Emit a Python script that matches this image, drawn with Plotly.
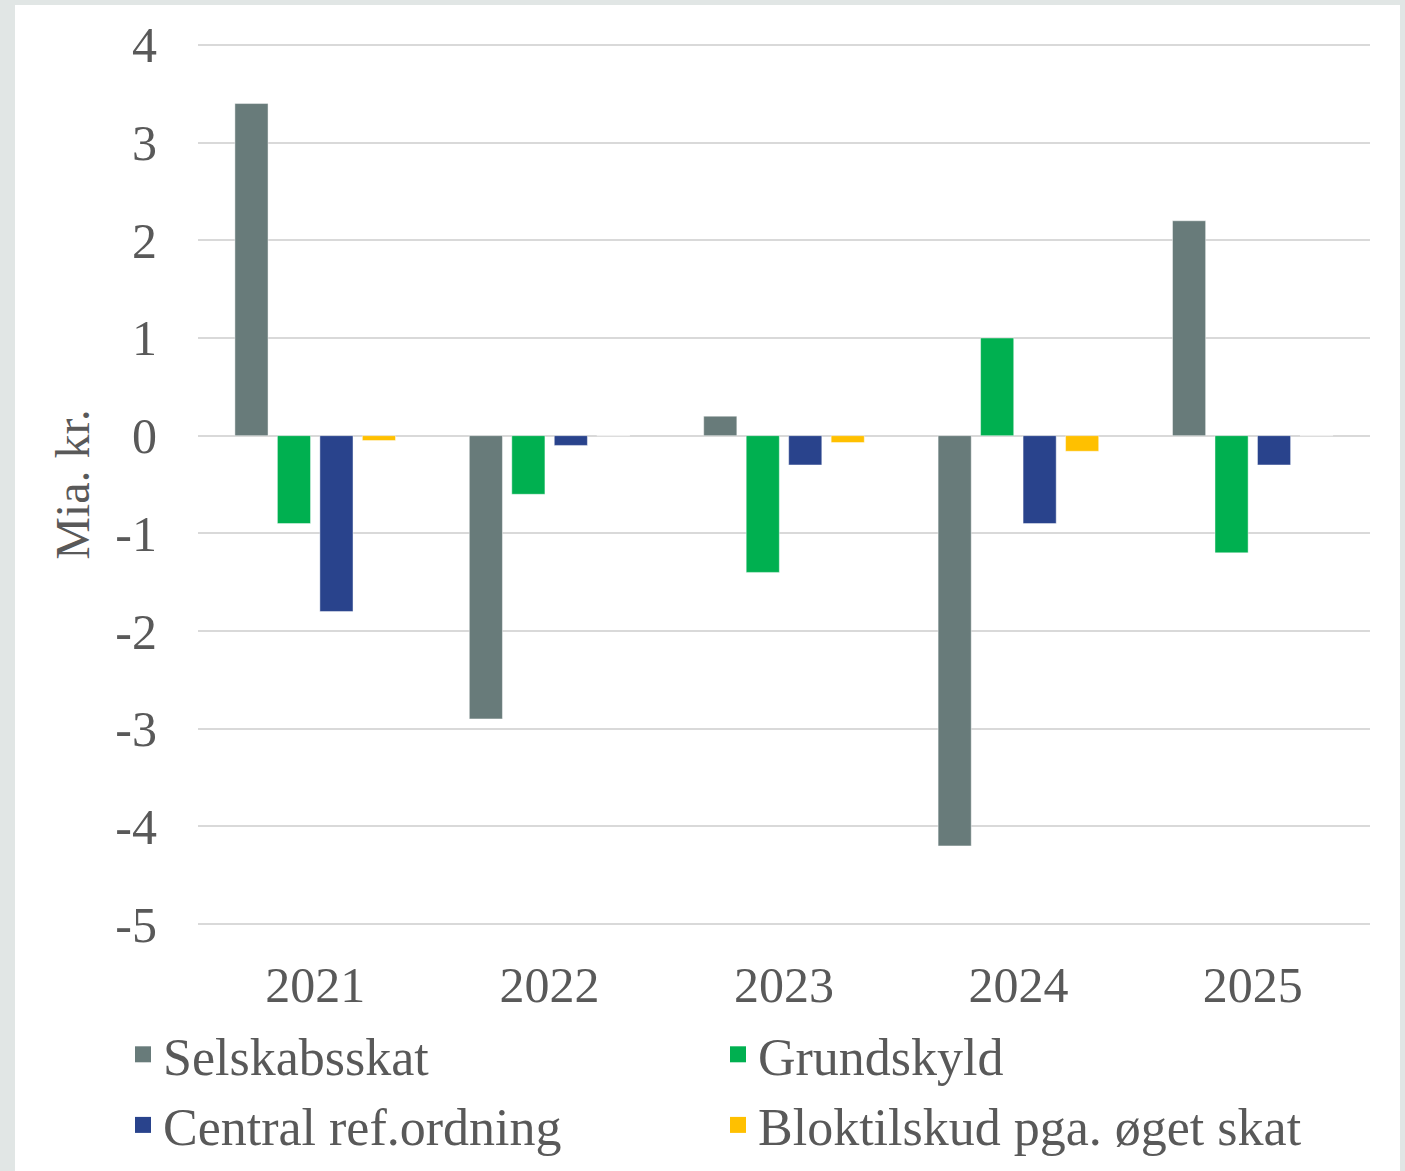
import plotly.graph_objects as go

years = ["2021", "2022", "2023", "2024", "2025"]
selskabsskat = [3.4, -2.9, 0.2, -4.2, 2.2]
grundskyld = [-0.9, -0.6, -1.4, 1.0, -1.2]
central_ref = [-1.8, -0.1, -0.3, -0.9, -0.3]
bloktilskud = [-0.05, 0.0, -0.07, -0.16, 0.0]

series_names = ["Selskabsskat", "Grundskyld", "Central ref.ordning", "Bloktilskud pga. øget skat"]
series_values = [selskabsskat, grundskyld, central_ref, bloktilskud]
colors = ["#687B7A", "#00B050", "#29438C", "#FFC000"]

y_tickvals = [4, 3, 2, 1, 0, -1, -2, -3, -4, -5]
y_ticktext = ["4", "3", "2", "1", "0", "-1", "-2", "-3", "-4", "-5"]

FONT = "Liberation Serif"
TXT = "#595959"

fig = go.Figure()
for name, vals, col in zip(series_names, series_values, colors):
    fig.add_trace(go.Bar(
        x=years, y=vals, name=name, showlegend=False, legendgroup=name,
        marker=dict(color=col, line=dict(color="rgba(255,255,255,0.45)", width=1)),
    ))
# legend entries (square swatches)
for name, col in zip(series_names, colors):
    fig.add_trace(go.Scatter(
        x=[None], y=[None], mode="markers", name=name, legendgroup=name,
        marker=dict(symbol="square", size=20, color=col),
    ))

W, H = 1405, 1171
L, R, T, B = 198, 35, 43, 245
pw = W - L - R
ph = H - T - B

def px_x(p):
    return (p - L) / pw

def px_y(p):
    return (H - B - p) / ph

# outer frame: gray paper with white panel
fig.add_shape(type="rect", xref="paper", yref="paper",
              x0=px_x(15), x1=px_x(1400), y0=px_y(1200), y1=px_y(5),
              fillcolor="white", line=dict(width=0), layer="below")

fig.update_layout(
    width=W, height=H,
    margin=dict(l=L, r=R, t=T, b=B, autoexpand=False),
    paper_bgcolor="#E1E6E5",
    plot_bgcolor="rgba(0,0,0,0)",
    barmode="group",
    bargap=0.275,
    bargroupgap=0.22,
    font=dict(family=FONT, color=TXT, size=46),
    showlegend=True,
    legend=dict(
        orientation="h",
        x=px_x(123), xanchor="left",
        y=px_y(1014), yanchor="top",
        font=dict(family=FONT, size=52, color=TXT),
        entrywidth=550, entrywidthmode="pixels",
        bgcolor="rgba(0,0,0,0)",
        traceorder="normal",
        itemsizing="trace",
    ),
)

fig.update_xaxes(
    showgrid=False, showline=False, ticks="",
    tickfont=dict(family=FONT, size=50, color=TXT),
    ticklabelstandoff=25, automargin=False,
)
fig.update_yaxes(
    range=[-5.02, 4.02],
    tickvals=y_tickvals, ticktext=y_ticktext,
    showgrid=True, gridcolor="#D9D9D9", gridwidth=2,
    zeroline=True, zerolinecolor="#D9D9D9", zerolinewidth=2,
    showline=False, ticks="",
    tickfont=dict(family=FONT, size=50, color=TXT),
    ticklabelstandoff=40, automargin=False,
    title=dict(text="Mia. kr.", font=dict(family=FONT, size=48, color=TXT), standoff=10),
)

fig.write_html("out.html", post_script="document.body.style.margin='0';",
               config={"displayModeBar": False})
